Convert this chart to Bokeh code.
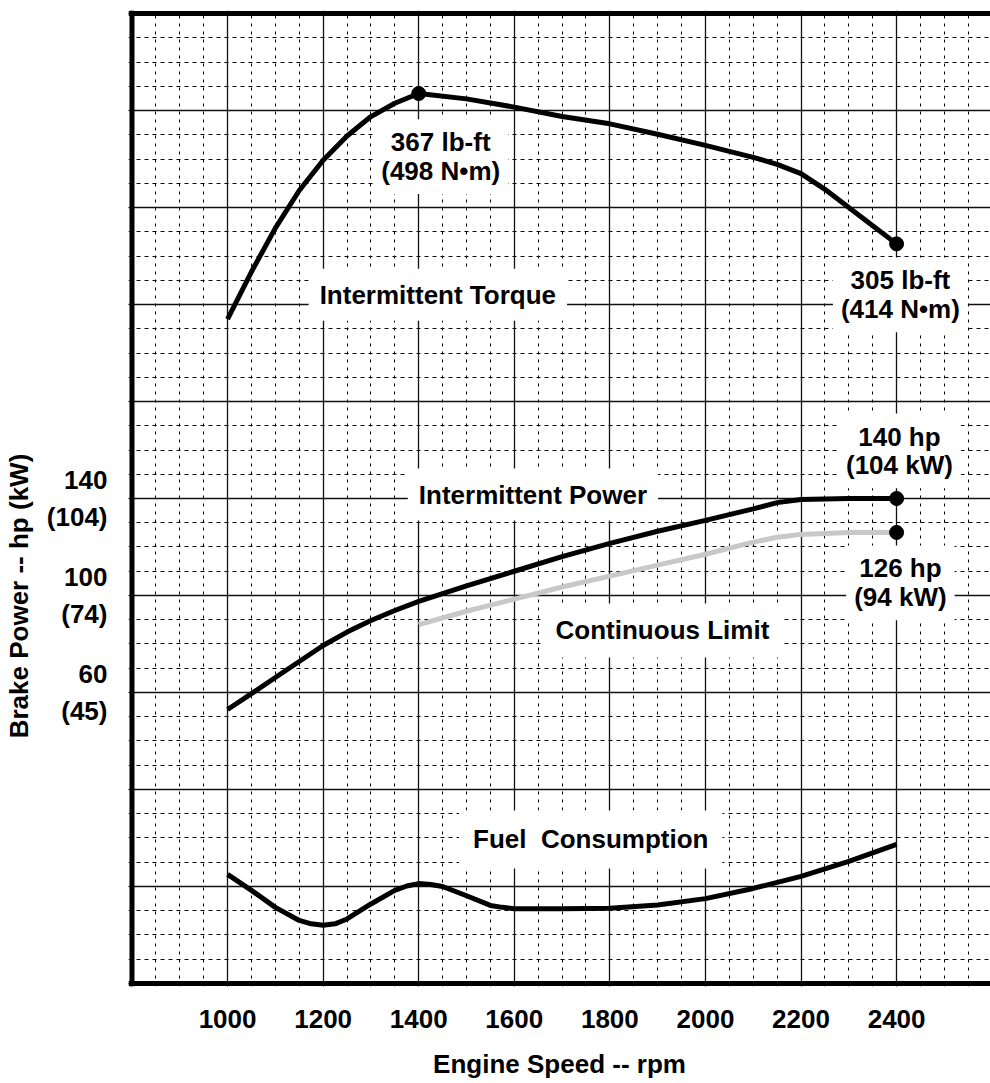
import math
from bokeh.plotting import figure
from bokeh.models import Range1d, FixedTicker, SingleIntervalTicker, Label, Span
from bokeh.embed import file_html
from bokeh.resources import INLINE

# ---------------- data ----------------
rpm_ticks = [1000, 1200, 1400, 1600, 1800, 2000, 2200, 2400]

hp_tick_values = [60, 100, 140]
kw_tick_values = [45, 74, 104]

rpm_torque = [1000, 1050, 1100, 1150, 1200, 1250, 1300, 1350, 1400, 1500, 1600,
              1700, 1800, 1900, 2000, 2100, 2150, 2200, 2250, 2300, 2350, 2400]
torque_lbft = [274, 293.5, 311.5, 327, 339.5, 349.5, 357.5, 363, 367, 364.8, 361.4,
               357.5, 354.5, 350.2, 345.6, 340.7, 337.8, 334, 327.5, 320, 312.5, 305]

rpm_power = [1000, 1050, 1100, 1150, 1200, 1250, 1300, 1350, 1400, 1500, 1600, 1700,
             1800, 1900, 2000, 2100, 2150, 2200, 2300, 2400]
power_hp = [53, 59.5, 66.2, 72.8, 79.4, 84.9, 89.7, 93.8, 97.6, 104, 110, 116,
            121.5, 126.5, 131, 135.7, 138.3, 139.6, 140, 140]

rpm_cont = [1400, 1500, 1600, 1700, 1800, 1900, 2000, 2100, 2150, 2200, 2300, 2400]
cont_hp = [88, 93.5, 98.5, 103.5, 108, 112.5, 117, 122, 124, 125.2, 126, 126]

rpm_fuel = [1000, 1050, 1100, 1150, 1175, 1200, 1225, 1250, 1300, 1350, 1375, 1400,
            1425, 1450, 1500, 1550, 1575, 1600, 1700, 1800, 1900, 2000, 2100, 2200,
            2300, 2400]
fuel_gkwh = [202.5, 199.2, 195.7, 193, 192.3, 192, 192.3, 193.3, 196.4, 199.2, 200.1,
             200.6, 200.4, 200, 198.1, 196.1, 195.7, 195.4, 195.4, 195.5, 196.2, 197.5,
             199.6, 202.1, 205.2, 208.7]

torque_pts_rpm = [1400, 2400]
torque_pts_val = [367, 305]
power_pts_rpm = [2400, 2400]
power_pts_val = [140, 126]

FONT = "Liberation Sans"
NB = "\u00a0"

# ---------------- figure ----------------
p = figure(width=990, height=1083,
           x_range=Range1d(792.7, 2596.5), y_range=Range1d(-61.24, 341.24),
           output_backend="svg", toolbar_location=None,
           min_border_left=127, min_border_right=0,
           min_border_top=10, min_border_bottom=97)
p.extra_y_ranges = {"torque": Range1d(-1.237, 401.237),
                    "fuel": Range1d(179.38, 380.62)}
p.outline_line_color = None
p.background_fill_color = "white"

# grid
p.xgrid.ticker = SingleIntervalTicker(interval=200, num_minor_ticks=4)
p.ygrid.ticker = FixedTicker(ticks=list(range(-60, 341, 40)),
                             minor_ticks=list(range(-60, 341, 10)))
for g in (p.xgrid, p.ygrid):
    g.grid_line_color = "#111111"
    g.grid_line_width = 1.3
    g.minor_grid_line_color = "black"
    g.minor_grid_line_width = 1
p.xgrid.minor_grid_line_dash = "3 5"
p.ygrid.minor_grid_line_dash = "4 4"

# x axis
xa = p.xaxis[0]
xa.ticker = FixedTicker(ticks=rpm_ticks)
xa.axis_label = "Engine Speed -- rpm"
xa.axis_line_color = None
xa.major_tick_line_color = None
xa.minor_tick_line_color = None
xa.major_tick_out = 0
xa.major_tick_in = 0
xa.minor_tick_out = 0
xa.major_label_text_font = FONT
xa.major_label_text_font_style = "bold"
xa.major_label_text_font_size = "26px"
xa.major_label_text_color = "black"
xa.major_label_standoff = 23
xa.axis_label_text_font = FONT
xa.axis_label_text_font_style = "bold"
xa.axis_label_text_font_size = "26px"
xa.axis_label_text_color = "black"
xa.axis_label_standoff = 18

# y axis
ya = p.yaxis[0]
ya.ticker = FixedTicker(ticks=hp_tick_values)
ya.major_label_overrides = {h: f"{h}\n({k})" for h, k in zip(hp_tick_values, kw_tick_values)}
ya.axis_line_color = None
ya.major_tick_line_color = None
ya.minor_tick_line_color = None
ya.major_tick_out = 0
ya.major_tick_in = 0
ya.minor_tick_out = 0
ya.major_label_text_font = FONT
ya.major_label_text_font_style = "bold"
ya.major_label_text_font_size = "26px"
ya.major_label_text_color = "black"
ya.major_label_text_align = "center"
ya.major_label_text_line_height = 1.22
ya.major_label_standoff = 21
# trailing no-break spaces move the rotated title down to where it sits in the original
ya.axis_label = "Brake Power -- hp (kW)" + NB * 27
ya.axis_label_text_font = FONT
ya.axis_label_text_font_style = "bold"
ya.axis_label_text_font_size = "26px"
ya.axis_label_text_color = "black"
ya.axis_label_standoff = 10

# curves
p.line(rpm_torque, torque_lbft, y_range_name="torque", line_color="black",
       line_width=5, line_join="round")
p.line(rpm_cont, cont_hp, line_color="#c8c8c8", line_width=5, line_join="round")
p.line(rpm_power, power_hp, line_color="black", line_width=5, line_join="round")
p.line(rpm_fuel, fuel_gkwh, y_range_name="fuel", line_color="black",
       line_width=5, line_join="round")
p.scatter(torque_pts_rpm, torque_pts_val, y_range_name="torque", size=14,
          fill_color="black", line_color="black")
p.scatter(power_pts_rpm, power_pts_val, size=14, fill_color="black", line_color="black")

# frame border (left, top, bottom)
p.add_layout(Span(location=800, dimension="height", line_color="black", line_width=5))
p.add_layout(Span(location=340, dimension="width", line_color="black", line_width=5))
p.add_layout(Span(location=-60, dimension="width", line_color="black", line_width=5))


def lab(x, y, text, rng="default", pad=8):
    p.add_layout(Label(x=x, y=y, y_range_name=rng, text=text,
                       text_font=FONT, text_font_style="bold", text_font_size="26px",
                       text_color="black", text_align="center", text_baseline="middle",
                       text_line_height=0.96,
                       background_fill_color="white", padding=pad))


lab(1446, 341, "367 lb-ft\n(498 N\u2022m)", "torque")
lab(2408, 284, "305 lb-ft\n(414 N\u2022m)", "torque")
lab(1440, 284, "Intermittent Torque", "torque", pad=11)
lab(1639, 141.6, "Intermittent Power", pad=11)
lab(2406, 159.6, "140 hp\n(104 kW)")
lab(2408, 105.2, "126 hp\n(94 kW)")
lab(1910, 85.6, "Continuous Limit", pad=12)
lab(1760, 209.7, "Fuel" + NB + NB + "Consumption", "fuel", pad=14)

open("out.html", "w").write(file_html(p, INLINE))
